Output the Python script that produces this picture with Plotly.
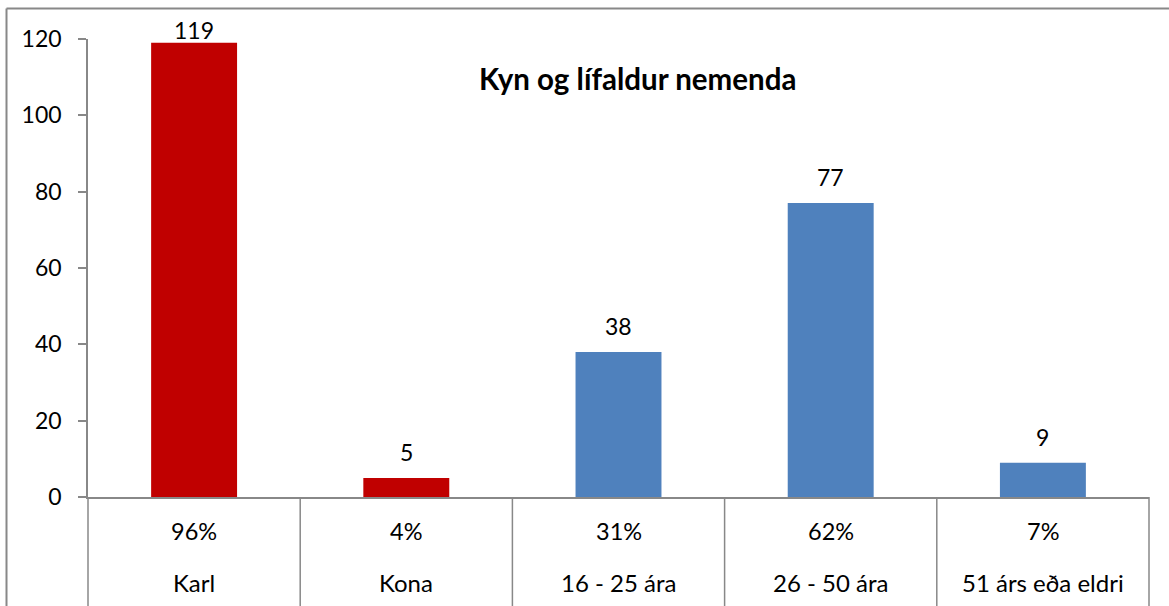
import plotly.graph_objects as go

categories = ["Karl", "Kona", "16 - 25 ára", "26 - 50 ára", "51 árs eða eldri"]
values = [119, 5, 38, 77, 9]
percents = ["96%", "4%", "31%", "62%", "7%"]
colors = ["#C00000", "#C00000", "#4F81BD", "#4F81BD", "#4F81BD"]
y_ticks = [0, 20, 40, 60, 80, 100, 120]

W, H = 1169, 606
L, R, T, B = 88, 1149, 39, 497
pw, ph = R - L, B - T
YMAX = 120

FONT = "Lato, Carlito, 'Open Sans', sans-serif"
GRAY = "#888888"

fig = go.Figure()
fig.add_trace(go.Bar(
    x=list(range(len(categories))), y=values,
    marker=dict(color=colors, line=dict(width=0)),
    width=0.405,
    hoverinfo="x+y",
))

def px2paperx(px):
    return (px - L) / pw

def px2papery(py):
    return (B - py) / ph

shapes = []
n = len(categories)
for i in range(n + 1):
    xp = i / n
    shapes.append(dict(type="line", xref="paper", yref="paper",
                       x0=xp, x1=xp, y0=0, y1=px2papery(W),
                       line=dict(color=GRAY, width=1.5)))
# outer border
shapes.append(dict(type="line", xref="paper", yref="paper",
                   x0=px2paperx(6.5), x1=px2paperx(W + 5), y0=px2papery(8.5), y1=px2papery(8.5),
                   line=dict(color=GRAY, width=2)))
shapes.append(dict(type="line", xref="paper", yref="paper",
                   x0=px2paperx(6.5), x1=px2paperx(6.5), y0=px2papery(8.5), y1=px2papery(H + 5),
                   line=dict(color=GRAY, width=2)))

annotations = []
# value labels above bars (kept inside the chart area near the top)
for i, v in enumerate(values):
    top_px = B - v * ph / YMAX
    center_px = max(top_px - 26, 30)
    annotations.append(dict(xref="x", yref="y", x=i, y=v, text=str(v), showarrow=False,
                            xanchor="center", yanchor="middle", yshift=top_px - center_px,
                            font=dict(family=FONT, size=23, color="#000000")))
for i in range(n):
    xc = (i + 0.5) / n
    annotations.append(dict(xref="paper", yref="paper", x=xc, y=px2papery(531),
                            text=percents[i], showarrow=False, xanchor="center", yanchor="middle",
                            font=dict(family=FONT, size=23.5, color="#000000")))
    annotations.append(dict(xref="paper", yref="paper", x=xc, y=px2papery(582),
                            text=categories[i], showarrow=False, xanchor="center", yanchor="middle",
                            font=dict(family=FONT, size=24, color="#000000")))
annotations.append(dict(xref="paper", yref="paper", x=px2paperx(637), y=px2papery(78),
                        text="<b>Kyn og lífaldur nemenda</b>", showarrow=False,
                        xanchor="center", yanchor="middle",
                        font=dict(family=FONT, size=29.5, color="#000000")))

fig.update_layout(
    width=W, height=H,
    margin=dict(l=L, r=W - R, t=T, b=H - B, pad=0),
    paper_bgcolor="white", plot_bgcolor="white",
    showlegend=False,
    shapes=shapes, annotations=annotations,
    xaxis=dict(range=[-0.5, n - 0.5], showticklabels=False, ticks="",
               showline=True, linecolor=GRAY, linewidth=1.5, showgrid=False, zeroline=False,
               fixedrange=True),
    yaxis=dict(range=[0, YMAX], tickvals=y_ticks, ticks="outside", ticklen=8,
               tickcolor=GRAY, tickwidth=1.5, showline=True, linecolor=GRAY, linewidth=1.5,
               showgrid=False, zeroline=False,
               tickfont=dict(family=FONT, size=23, color="#000000"), ticklabelstandoff=12),
)

fig.write_html("out.html", config={"displayModeBar": False},
               post_script="document.body.style.margin='0';document.body.style.overflow='hidden';")
